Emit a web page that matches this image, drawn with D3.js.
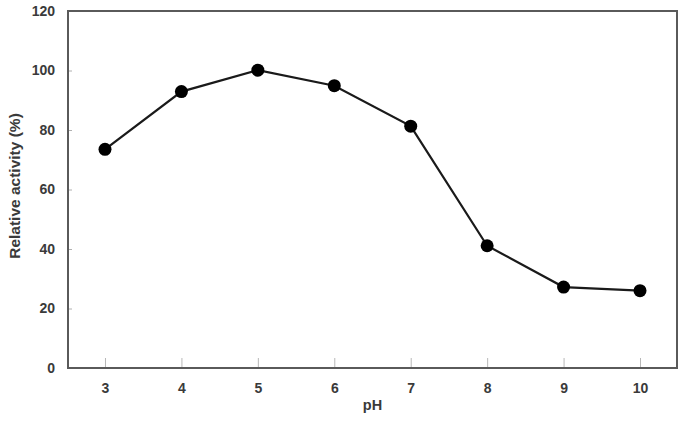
<!DOCTYPE html>
<html>
<head>
<meta charset="utf-8">
<script src="https://cdn.jsdelivr.net/npm/d3@7"></script>
<style>
body { margin: 0; background: #fff; }
text { font-family: "Liberation Sans", Arial, sans-serif; font-weight: bold; fill: #3a3a3a; }
</style>
</head>
<body>
<div id="idChart"></div>
<script>
var aPH = [3, 4, 5, 6, 7, 8, 9, 10];
var aActivity = [73.5, 92.9, 100.1, 94.9, 81.3, 41.1, 27.2, 26.0];
var aYTicks = [0, 20, 40, 60, 80, 100, 120];

var iWidth = 685;
var iHeight = 422;
var oMargin = {top: 11, right: 8, bottom: 54, left: 68};
var iPlotW = iWidth - oMargin.left - oMargin.right;
var iPlotH = iHeight - oMargin.top - oMargin.bottom;

var mySvg = d3.select("#idChart").append("svg")
	.attr("width", iWidth)
	.attr("height", iHeight);

var myPlot = mySvg.append("g")
	.attr("transform", "translate(" + oMargin.left + "," + oMargin.top + ")");

var xScale = d3.scaleLinear().domain([2.516, 10.484]).range([0, iPlotW]);
var yScale = d3.scaleLinear().domain([0, 120]).range([iPlotH, 0]);

// y axis ticks and labels
var yAxis = myPlot.append("g").call(d3.axisLeft(yScale).tickValues(aYTicks).tickSize(-4).tickPadding(13));
yAxis.select(".domain").remove();
yAxis.selectAll("line").attr("stroke", "#b0b0b0");
yAxis.selectAll("text").style("font-size", "14px").style("font-family", null).attr("fill", "#3a3a3a");

// x axis ticks and labels
var xAxis = myPlot.append("g")
	.attr("transform", "translate(0," + iPlotH + ")")
	.call(d3.axisBottom(xScale).tickValues(aPH).tickFormat(d3.format("d")).tickSize(-10).tickPadding(15));
xAxis.select(".domain").remove();
xAxis.selectAll("line").attr("stroke", "#b8b8b8");
xAxis.selectAll("text").style("font-size", "14px").style("font-family", null).attr("fill", "#3a3a3a");

// frame
myPlot.append("rect")
	.attr("x", 0).attr("y", 0)
	.attr("width", iPlotW).attr("height", iPlotH)
	.attr("fill", "none")
	.attr("stroke", "#5a5a5a")
	.attr("stroke-width", 2);

// line
var myLine = d3.line()
	.x(function(d, i) { return xScale(aPH[i]); })
	.y(function(d) { return yScale(d); });

myPlot.append("path")
	.datum(aActivity)
	.attr("d", myLine)
	.attr("fill", "none")
	.attr("stroke", "#1a1a1a")
	.attr("stroke-width", 2.2);

myPlot.selectAll(".dot")
	.data(aActivity)
	.enter().append("circle")
	.attr("class", "dot")
	.attr("cx", function(d, i) { return xScale(aPH[i]); })
	.attr("cy", function(d) { return yScale(d); })
	.attr("r", 6.5)
	.attr("fill", "#000");

// axis titles
mySvg.append("text")
	.attr("x", oMargin.left + xScale(6.5))
	.attr("y", 410)
	.attr("text-anchor", "middle")
	.style("font-size", "14.5px")
	.text("pH");

mySvg.append("text")
	.attr("transform", "translate(19.5,186) rotate(-90)")
	.attr("text-anchor", "middle")
	.style("font-size", "15.5px")
	.text("Relative activity (%)");
</script>
</body>
</html>
